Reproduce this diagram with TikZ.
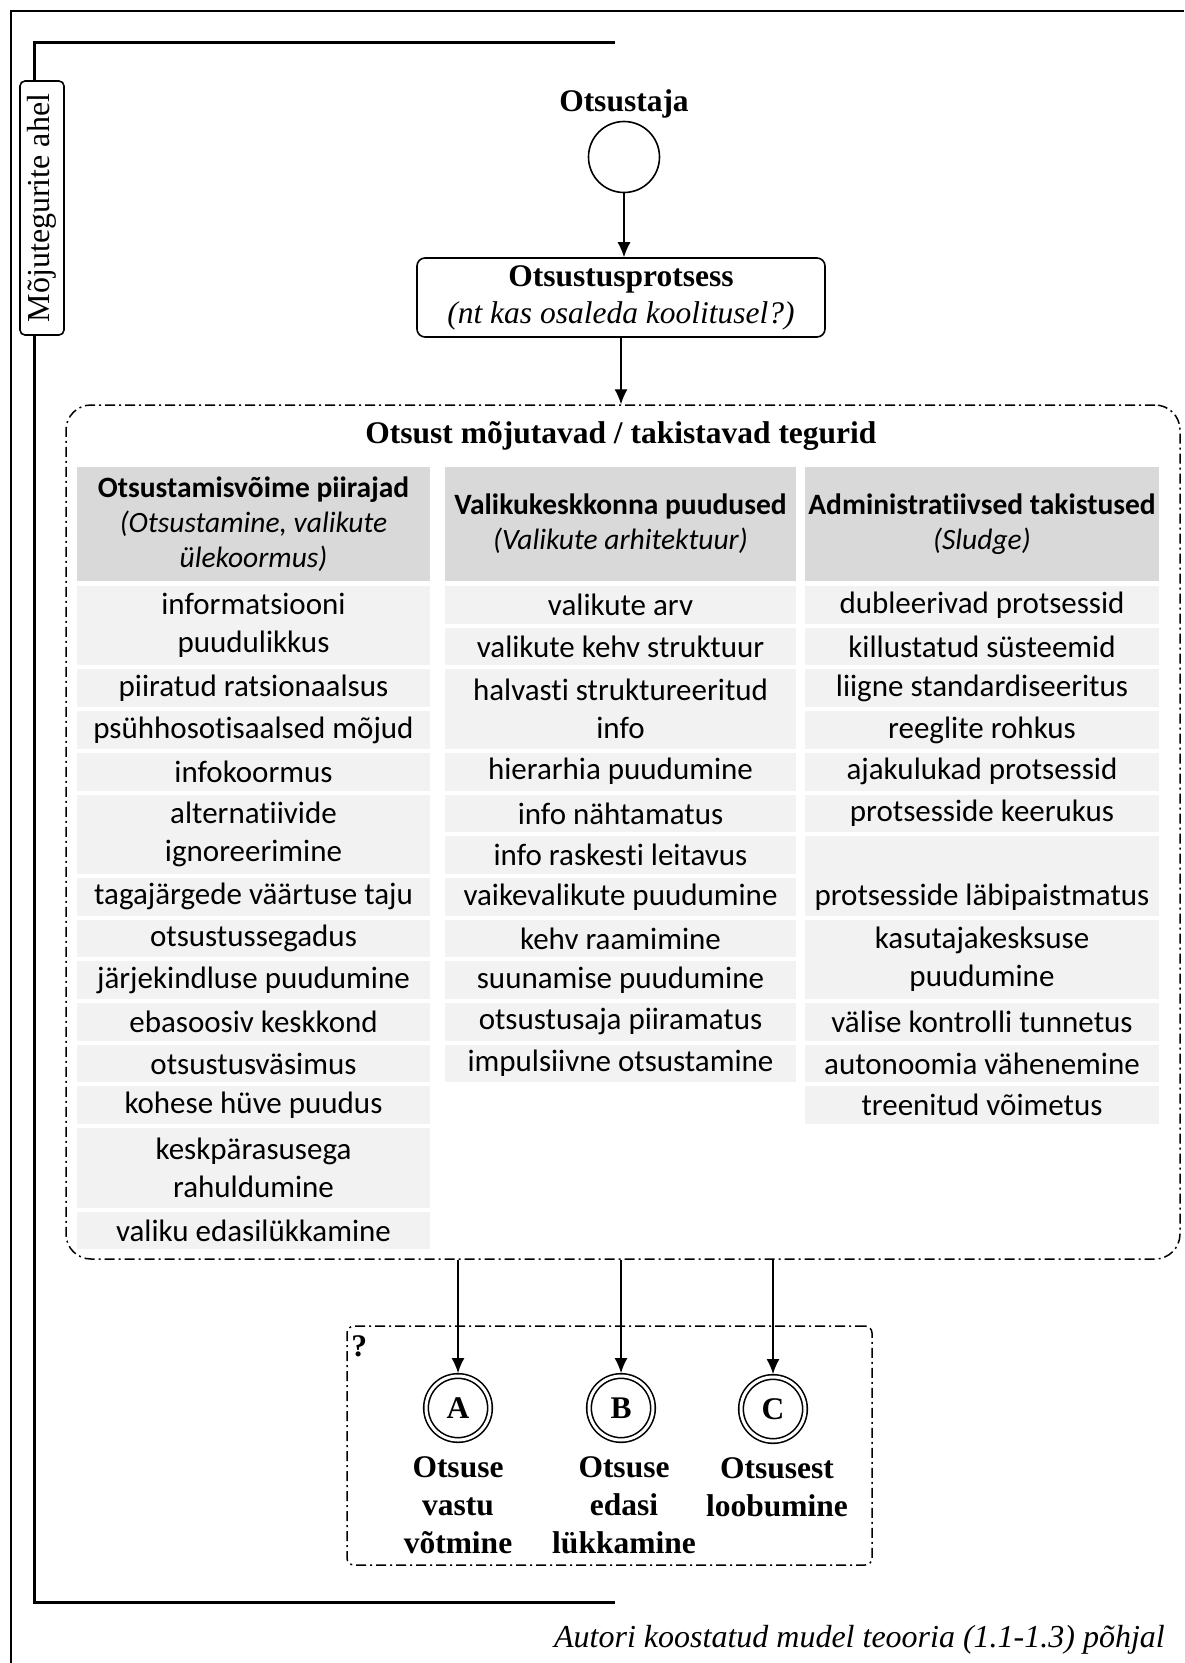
\documentclass[tikz,border=0pt]{standalone}
\usepackage{fontspec}
\setmainfont{Liberation Serif}
\newfontfamily\calibri[Ligatures=NoCommon]{Carlito}
\usetikzlibrary{arrows.meta,positioning}
\tikzset{>={Latex[width=13pt,length=15pt]}}
\definecolor{headgray}{HTML}{D9D9D9}
\definecolor{rowgray}{HTML}{F2F2F2}

\begin{document}
\begin{tikzpicture}[x=1pt, y=-1pt,
  tnr/.style={font=\fontsize{31.5}{37}\selectfont},
  dashbox/.style={draw, line width=1.5pt, dash pattern=on 10pt off 4pt on 2pt off 4pt, rounded corners=25pt},
  head/.style={fill=headgray, minimum height=114, inner sep=0pt, align=center, font=\calibri\fontsize{29.5}{35}\selectfont},
  cell/.style={fill=rowgray, inner sep=0pt, align=center, font=\calibri\fontsize{31}{38}\selectfont},
  endstate/.style={circle, draw, double, double distance=3pt, line width=1.6pt, minimum size=64, inner sep=0pt, outer sep=3pt, font=\fontsize{31.5}{37}\selectfont\bfseries},
  outcome/.style={below=13pt of #1, inner sep=0pt, align=center, font=\fontsize{31.5}{38}\selectfont\bfseries}]

  \useasboundingbox (0,0) rectangle (1184,1663);
  \newcommand\rowH{41.7}
  \newcommand\rowT{586}

  %% frame and bracket
  \draw[line width=1.3pt] (11,1663) |- (1184,11);
  \coordinate (brtop) at (615,42);
  \coordinate (brbot) at (615,1602);
  \draw[line width=3pt] (brtop) -| (34,822) |- (brbot);
  \node[draw, fill=white, rotate=90, rounded corners=5pt, line width=1.6pt, minimum width=254, minimum height=44, inner sep=0pt, font=\fontsize{32}{38}\selectfont] (chain) at (42,208) {Mõjutegurite ahel};

  %% decision maker -> process
  \node[draw, circle, line width=1.6pt, minimum size=71, inner sep=0pt] (dm) at (624,157) {};
  \node[tnr, above=2pt of dm, inner sep=0pt] (dmname) {\bfseries Otsustaja};
  \node[draw, rounded corners=8pt, line width=1.6pt, minimum width=408, minimum height=79, align=center, tnr] (proc) at (621,297.5) {\textbf{Otsustusprotsess}\\\textit{(nt kas osaleda koolitusel?)}};
  \draw[->, line width=1.2pt] (dm) -- (dm |- proc.north);

  %% factors
  \node[dashbox, minimum width=1114, minimum height=854] (factors) at (623,832) {};
  \draw[->, line width=1.2pt] (proc) -- (proc |- factors.north);
  \node[tnr, inner sep=0pt] (ftitle) at (621,436) {\bfseries Otsust mõjutavad / takistavad tegurid};

  \node[head, minimum width=353] (h1) at (253.5,524) {\textbf{Otsustamisvõime piirajad}\\\textit{(Otsustamine, valikute}\\\textit{ülekoormus)}};
  \node[head, minimum width=351] (h2) at (620.5,524) {\textbf{Valikukeskkonna puudused}\\\textit{(Valikute arhitektuur)}};
  \node[head, minimum width=354] (h3) at (982,524) {\textbf{Administratiivsed takistused}\\\textit{(Sludge)}};

  \foreach \s/\u/\t [count=\i] in {0/2/{informatsiooni\\puudulikkus}, 2/1/{piiratud ratsionaalsus},
      3/1/{psühhosotisaalsed mõjud}, 4/1/{infokoormus}, 5/2/{alternatiivide\\ignoreerimine},
      7/1/{tagajärgede väärtuse taju}, 8/1/{otsustussegadus}, 9/1/{järjekindluse puudumine},
      10/1/{ebasoosiv keskkond}, 11/1/{otsustusväsimus}, 12/1/{kohese hüve puudus},
      13/2/{keskpärasusega\\rahuldumine}, 15/1/{valiku edasilükkamine}}
    \node[cell, minimum width=353, minimum height={\u*\rowH-4}] (a\i) at (253.5,{\rowT+(\s+\u/2)*\rowH-2}) {\t};

  \foreach \s/\u/\t [count=\i] in {0/1/{valikute arv}, 1/1/{valikute kehv struktuur},
      2/2/{halvasti struktureeritud\\info}, 4/1/{hierarhia puudumine}, 5/1/{info nähtamatus},
      6/1/{info raskesti leitavus}, 7/1/{vaikevalikute puudumine}, 8/1/{kehv raamimine},
      9/1/{suunamise puudumine}, 10/1/{otsustusaja piiramatus}, 11/1/{impulsiivne otsustamine}}
    \node[cell, minimum width=351, minimum height={\u*\rowH-4}] (b\i) at (620.5,{\rowT+(\s+\u/2)*\rowH-2}) {\t};

  \foreach \s/\u/\t [count=\i] in {0/1/{dubleerivad protsessid}, 1/1/{killustatud süsteemid},
      2/1/{liigne standardiseeritus}, 3/1/{reeglite rohkus}, 4/1/{ajakulukad protsessid},
      5/1/{protsesside keerukus}, 6/2/{\strut\\protsesside läbipaistmatus},
      8/2/{kasutajakesksuse\\puudumine}, 10/1/{välise kontrolli tunnetus},
      11/1/{autonoomia vähenemine}, 12/1/{treenitud võimetus}}
    \node[cell, minimum width=354, minimum height={\u*\rowH-4}] (c\i) at (982,{\rowT+(\s+\u/2)*\rowH-2}) {\t};

  %% outcomes
  \node[dashbox, rounded corners=7pt, minimum width=525, minimum height=239] (outc) at (609.5,1445.5) {};
  \node[tnr, anchor=north west, inner sep=0pt] (qm) at ([xshift=5pt,yshift=-10pt]outc.north west) {\bfseries ?};

  \node[endstate] (optA) at (458,1408) {A};
  \node[endstate] (optB) at (621,1408) {B};
  \node[endstate] (optC) at (773,1409) {C};
  \foreach \o in {optA,optB,optC}
    \draw[->, line width=1.2pt] (\o |- factors.south) -- (\o);

  \node[outcome=optA] (labA) {Otsuse\\vastu\\võtmine};
  \node[outcome=optB, xshift=3pt] (labB) {Otsuse\\edasi\\lükkamine};
  \node[outcome=optC, xshift=4pt] (labC) {Otsusest\\loobumine};

  \node[anchor=east, inner sep=0pt, font=\fontsize{32}{38}\selectfont\itshape] (src) at (1165,1640) {Autori koostatud mudel teooria (1.1-1.3) põhjal};
\end{tikzpicture}
\end{document}
